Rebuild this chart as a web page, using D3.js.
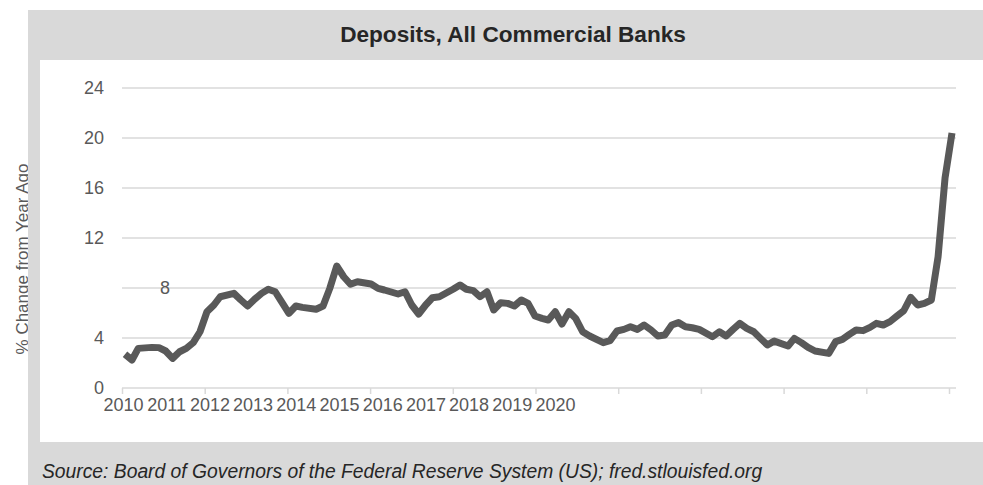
<!DOCTYPE html>
<html>
<head>
<meta charset="utf-8">
<script src="https://cdn.jsdelivr.net/npm/d3@7"></script>
<style>
  html, body { margin: 0; padding: 0; background: #fff; }
  svg { display: block; font-family: "Liberation Sans Narrow", "Arial Narrow", "Liberation Sans", Arial, sans-serif; }
</style>
</head>
<body>
<svg id="chart" width="983" height="485"></svg>
<script>
// year-over-year % change (month, value)
const months = [
  "2010-01", "2010-02", "2010-03", "2010-05", "2010-06", "2010-07", "2010-08", "2010-09", "2010-10", "2010-11", "2010-12",
  "2011-01", "2011-02", "2011-03", "2011-05", "2011-06", "2011-07", "2011-08", "2011-09", "2011-10", "2011-11", "2011-12",
  "2012-01", "2012-02", "2012-03", "2012-05", "2012-06", "2012-07", "2012-08", "2012-09", "2012-10", "2012-11",
  "2013-01", "2013-02", "2013-03", "2013-05", "2013-06", "2013-07", "2013-08", "2013-09", "2013-10", "2013-11",
  "2014-01", "2014-02", "2014-03", "2014-04", "2014-05", "2014-06", "2014-07", "2014-08", "2014-09", "2014-10", "2014-11", "2014-12",
  "2015-01", "2015-02", "2015-03", "2015-04", "2015-05", "2015-06", "2015-07", "2015-08", "2015-09", "2015-11", "2015-12",
  "2016-01", "2016-02", "2016-03", "2016-04", "2016-05", "2016-06", "2016-07", "2016-08", "2016-09", "2016-10", "2016-11", "2016-12",
  "2017-01", "2017-03", "2017-04", "2017-05", "2017-06", "2017-07", "2017-08", "2017-09", "2017-10", "2017-11", "2017-12",
  "2018-02", "2018-03", "2018-04", "2018-05", "2018-06", "2018-08", "2018-09", "2018-10", "2018-11", "2018-12",
  "2019-01", "2019-02", "2019-03", "2019-04", "2019-05", "2019-06", "2019-07", "2019-08", "2019-09", "2019-10", "2019-11", "2019-12",
  "2020-01", "2020-02"
];
const deposits = [
  2.7, 2.24, 3.17, 3.25, 3.23, 2.96, 2.37, 2.9, 3.17, 3.63, 4.5,
  6.1, 6.64, 7.3, 7.57, 7.04, 6.56, 7.1, 7.57, 7.9, 7.7, 6.85,
  5.97, 6.56, 6.45, 6.3, 6.56, 7.97, 9.76, 8.9, 8.3, 8.5,
  8.32, 7.97, 7.84, 7.52, 7.7, 6.64, 5.92, 6.64, 7.22, 7.3,
  7.9, 8.24, 7.9, 7.79, 7.3, 7.7, 6.24, 6.82, 6.77, 6.56, 7.04, 6.77,
  5.76, 5.57, 5.44, 6.1, 5.12, 6.1, 5.57, 4.5, 4.16, 3.63, 3.79,
  4.56, 4.69, 4.9, 4.69, 5.04, 4.64, 4.16, 4.24, 5.04, 5.23, 4.9, 4.82,
  4.69, 4.1, 4.5, 4.16, 4.69, 5.17, 4.77, 4.5, 3.97, 3.44, 3.75,
  3.36, 3.97, 3.63, 3.25, 2.96, 2.77, 3.71, 3.89, 4.29, 4.64,
  4.59, 4.85, 5.17, 5.04, 5.31, 5.76, 6.18, 7.25, 6.64, 6.77, 7.04, 10.5,
  16.8, 20.4
];
const yTicks = [0, 4, 8, 12, 16, 20, 24];
const yearLabels = ["2010", "2011", "2012", "2013", "2014", "2015", "2016", "2017", "2018", "2019", "2020"];

const parseMonth = d3.timeParse("%Y-%m");
const series = months.map((m, i) => ({ date: parseMonth(m), value: deposits[i] }));

const svg = d3.select("#chart");
const W = 983, H = 485;

// y axis title sits outside the panel, descenders get covered by the frame
svg.append("text")
  .attr("transform", "translate(28,259) rotate(-90)")
  .attr("text-anchor", "middle")
  .attr("font-family", "Liberation Sans, Arial, sans-serif")
  .attr("font-size", 17)
  .attr("fill", "#595959")
  .text("% Change from Year Ago");

// gray frame: title band, left strip, bottom band
svg.append("rect").attr("x", 28).attr("y", 10).attr("width", W - 28).attr("height", H - 10).attr("fill", "#d9d9d9");
svg.append("rect").attr("x", 40).attr("y", 60).attr("width", W - 40).attr("height", 382).attr("fill", "#ffffff");

svg.append("text")
  .attr("x", 513).attr("y", 42)
  .attr("text-anchor", "middle")
  .attr("font-size", 22.6)
  .attr("font-weight", "bold")
  .attr("fill", "#262626")
  .text("Deposits, All Commercial Banks");

svg.append("text")
  .attr("x", 42).attr("y", 478)
  .attr("font-family", "Liberation Sans, Arial, sans-serif")
  .attr("font-style", "italic")
  .attr("font-size", 19.3)
  .attr("fill", "#262626")
  .text("Source: Board of Governors of the Federal Reserve System (US); fred.stlouisfed.org");

// scales
const y = d3.scaleLinear().domain([0, 24]).range([388, 88]);
const frameX = d3.scaleLinear().domain([0, 10]).range([122, 949]);
const x = d3.scaleTime().domain([parseMonth("2010-01"), parseMonth("2020-02")]).range([125, 952]);
const labelX = d3.scalePoint().domain(yearLabels).range([123, 555]);

// horizontal gridlines
svg.append("g")
  .selectAll("line")
  .data(yTicks.filter(d => d > 0))
  .enter()
  .append("line")
  .attr("x1", 122).attr("x2", 956)
  .attr("y1", d => y(d)).attr("y2", d => y(d))
  .attr("stroke", "#d9d9d9")
  .attr("stroke-width", 1.5);

// y axis labels
const yAxis = svg.append("g")
  .attr("transform", "translate(104,0)")
  .call(d3.axisLeft(y).tickValues(yTicks).tickSize(0).tickPadding(0));
yAxis.select(".domain").remove();
yAxis.selectAll("text")
  .attr("font-size", 18)
  .attr("fill", "#595959");
// the "8" label was pushed into the plot in the original
yAxis.selectAll(".tick")
  .filter(d => d === 8)
  .select("text")
  .attr("x", 61)
  .attr("text-anchor", "middle");

// x axis line and tick marks
const xAxis = svg.append("g")
  .attr("transform", "translate(0,388)")
  .call(d3.axisBottom(frameX).ticks(10).tickSize(6).tickFormat(""));
xAxis.select(".domain")
  .attr("d", "M122,0H956")
  .attr("stroke", "#d9d9d9")
  .attr("stroke-width", 1.5);
xAxis.selectAll(".tick line")
  .attr("stroke", "#d9d9d9")
  .attr("stroke-width", 1.5);

// year labels, bunched up at the left as in the original
const labelAxis = svg.append("g")
  .attr("transform", "translate(0,398)")
  .call(d3.axisBottom(labelX).tickSize(0).tickPadding(0));
labelAxis.select(".domain").remove();
labelAxis.selectAll("text")
  .attr("font-size", 18)
  .attr("fill", "#595959");

// the series
const line = d3.line()
  .x(d => x(d.date))
  .y(d => y(d.value));

svg.append("path")
  .datum(series)
  .attr("d", line)
  .attr("fill", "none")
  .attr("stroke", "#595959")
  .attr("stroke-width", 7)
  .attr("stroke-linejoin", "round");
</script>
</body>
</html>
